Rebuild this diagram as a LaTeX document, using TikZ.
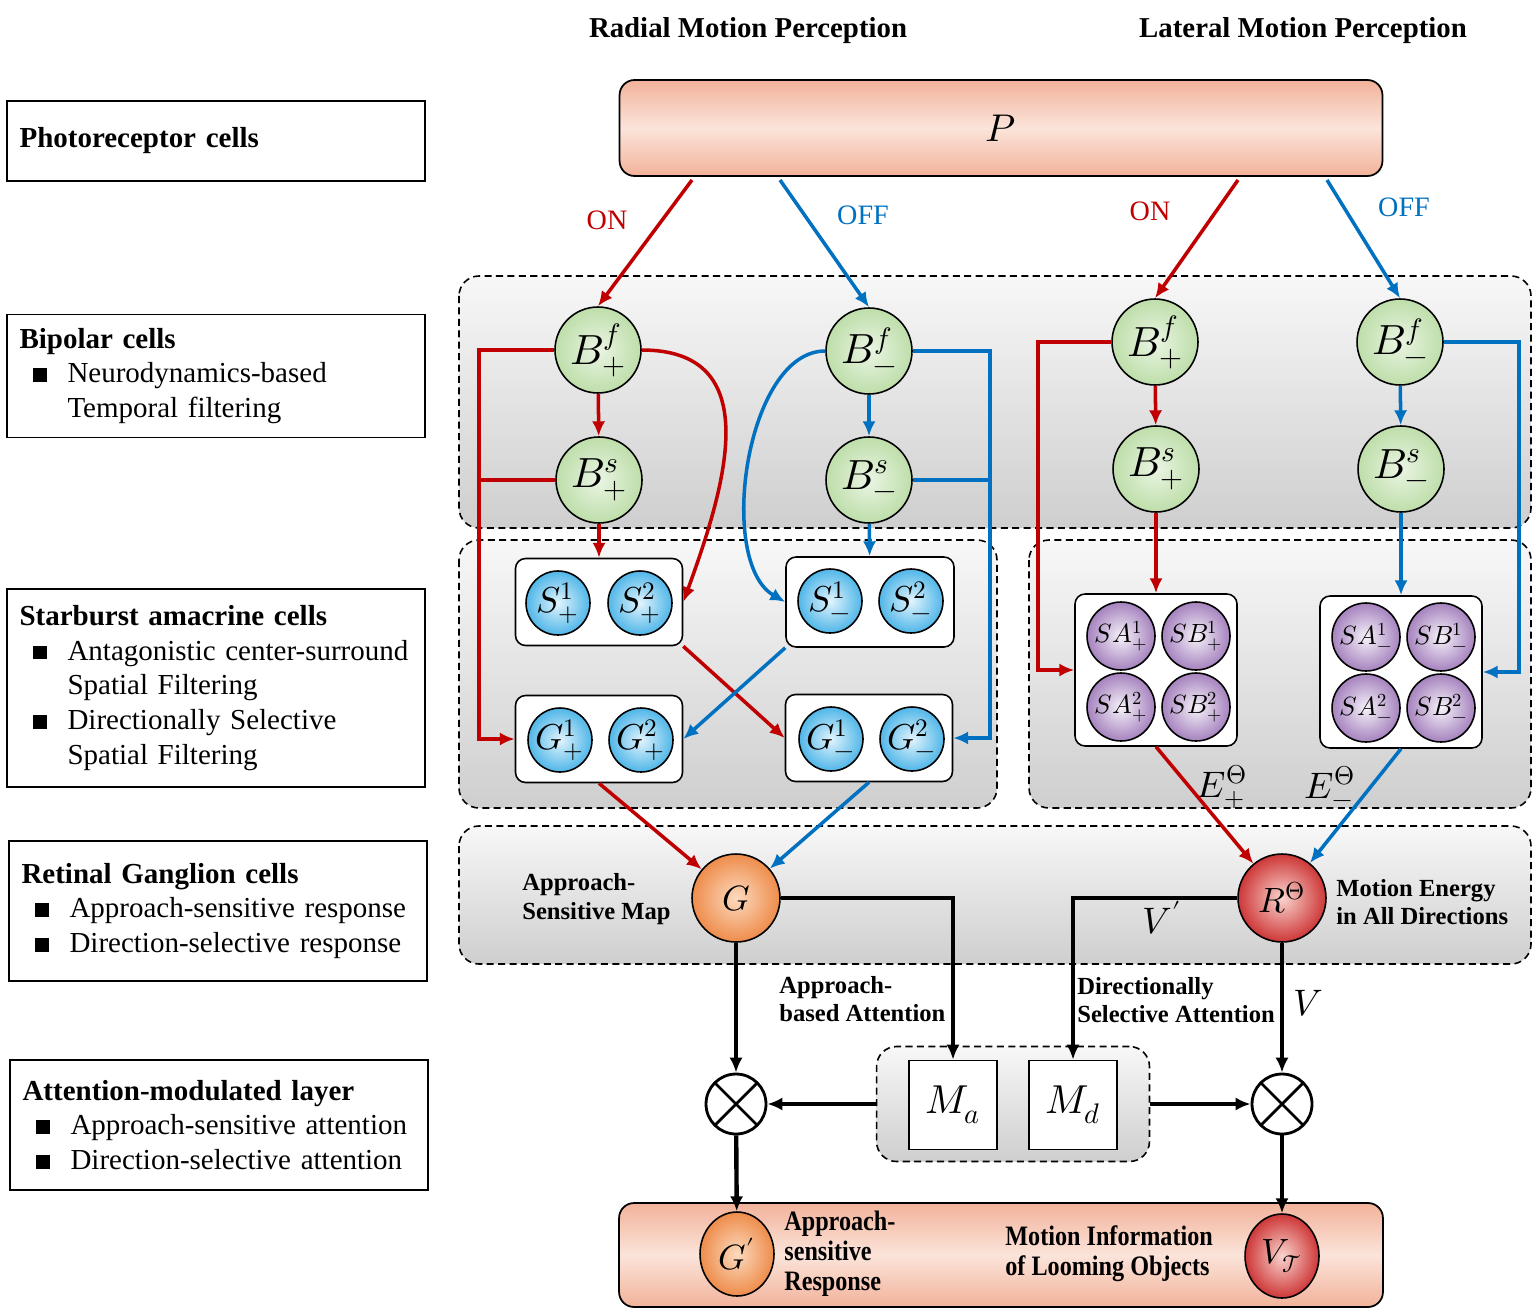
\documentclass[tikz,border=0pt]{standalone}
\usepackage{fontspec}
\usepackage{unicode-math}
\setmainfont{Liberation Serif}
\newfontfamily\narrowfont[FakeStretch=0.86]{Liberation Serif}
\usetikzlibrary{arrows.meta,shapes.geometric}

\definecolor{onred}{RGB}{192,0,0}
\definecolor{offblue}{RGB}{0,112,192}
\definecolor{bipout}{RGB}{190,222,170}
\definecolor{bipin}{RGB}{234,245,227}
\definecolor{sacout}{RGB}{80,182,232}
\definecolor{sacin}{RGB}{225,244,253}
\definecolor{dsout}{RGB}{165,130,190}
\definecolor{dsin}{RGB}{246,242,249}
\definecolor{apout}{RGB}{238,140,75}
\definecolor{apin}{RGB}{252,218,190}
\definecolor{meout}{RGB}{205,55,55}
\definecolor{mein}{RGB}{250,212,206}
\definecolor{salmon}{RGB}{242,178,154}
\definecolor{salmonlt}{RGB}{251,228,218}

\newcommand{\panelbullet}{\makebox[0.96cm][l]{\hspace{0.26cm}\rule[0.02cm]{0.29cm}{0.27cm}}}
\newcommand{\panelindent}{\hspace*{0.96cm}}

\tikzset{
  panel/.style={draw, line width=1pt, align=left, inner xsep=0.25cm, text width=7.86cm,
    font=\fontsize{16.5}{19.8}\selectfont},
  title/.style={font=\bfseries\fontsize{16.4}{19}\selectfont},
  layer/.style={draw, line width=0.9pt, dash pattern=on 4pt off 2.5pt, rounded corners=0.4cm,
    top color=black!3, bottom color=black!19},
  pbox/.style={draw, line width=1pt, rounded corners=0.3cm, top color=salmon, bottom color=salmon,
    middle color=salmonlt, font=\fontsize{22}{26}\selectfont},
  bip/.style={circle, draw, line width=0.9pt, minimum size=1.72cm, inner sep=0pt,
    inner color=bipin, outer color=bipout, font=\fontsize{24}{28}\selectfont},
  sac/.style={circle, draw, line width=0.9pt, minimum size=1.28cm, inner sep=0pt,
    inner color=sacin, outer color=sacout, font=\fontsize{20.5}{24}\selectfont},
  dsc/.style={circle, draw, line width=0.9pt, minimum size=1.36cm, inner sep=0pt,
    inner color=dsin, outer color=dsout, font=\fontsize{15}{17}\selectfont},
  cellbox/.style={draw, fill=white, line width=0.9pt, rounded corners=0.2cm, inner sep=0pt},
  apc/.style={circle, draw, line width=0.9pt, minimum size=1.76cm, inner sep=0pt,
    inner color=apin, outer color=apout, font=\fontsize{20}{24}\selectfont},
  mec/.style={apc, inner color=mein, outer color=meout},
  ape/.style={ellipse, draw, line width=0.9pt, minimum width=1.48cm, minimum height=1.68cm,
    inner sep=0pt, inner color=apin, outer color=apout, font=\fontsize{20}{24}\selectfont},
  mee/.style={ape, inner color=mein, outer color=meout},
  mult/.style={circle, draw, fill=white, line width=1.6pt, minimum size=1.2cm,
    path picture={\draw[line width=1.6pt] (path picture bounding box.north west) -- (path picture bounding box.south east)
      (path picture bounding box.north east) -- (path picture bounding box.south west);}},
  mbox/.style={draw, fill=white, line width=1pt, minimum width=1.76cm, minimum height=1.78cm,
    font=\fontsize{23}{27}\selectfont},
  onarrow/.style={draw=onred, line width=2pt, -{Latex[length=8.5pt,width=7.5pt]}},
  online/.style={draw=onred, line width=2pt},
  offarrow/.style={draw=offblue, line width=2pt, -{Latex[length=8.5pt,width=7.5pt]}},
  offline/.style={draw=offblue, line width=2pt},
  blackarrow/.style={draw, line width=2.5pt, -{Latex[length=8.5pt,width=7.5pt]}},
  onlab/.style={text=onred, font=\fontsize{16}{19}\selectfont},
  offlab/.style={text=offblue, font=\fontsize{16}{19}\selectfont},
  note/.style={align=left, inner sep=0pt, font=\bfseries\fontsize{14}{16.2}\selectfont},
  narrow/.style={align=left, inner sep=0pt, font=\narrowfont\bfseries\fontsize{16}{17}\selectfont},
  mathlab/.style={inner sep=0pt, font=\fontsize{21}{25}\selectfont}
}

\begin{document}
\begin{tikzpicture}[x=0.02cm, y=-0.02cm]
  \useasboundingbox (0,0) rectangle (1533,1314);

  % titles
  \node[title] (radial) at (748,31) {Radial Motion Perception};
  \node[title] (lateral) at (1303,31) {Lateral Motion Perception};

  % left panels
  \node[panel, minimum height=1.6cm] (photo) at (216,141) {\textbf{Photoreceptor cells}};
  \node[panel, minimum height=2.46cm] (bipolar) at (216,376)
    {\textbf{Bipolar cells}\\\panelbullet Neurodynamics-based\\\panelindent Temporal filtering};
  \node[panel, minimum height=3.96cm] (starburst) at (216,688)
    {\textbf{Starburst amacrine cells}\\\panelbullet Antagonistic center-surround\\\panelindent Spatial Filtering\\
     \panelbullet Directionally Selective\\\panelindent Spatial Filtering};
  \node[panel, minimum height=2.8cm] (ganglion) at (218,911)
    {\textbf{Retinal Ganglion cells}\\\panelbullet Approach-sensitive response\\\panelbullet Direction-selective response};
  \node[panel, minimum height=2.6cm] (attention) at (219,1125)
    {\textbf{Attention-modulated layer}\\\panelbullet Approach-sensitive attention\\\panelbullet Direction-selective attention};

  % gray layers
  \draw[layer] (459,276) rectangle (1531,528);
  \draw[layer] (459,540) rectangle (997,808);
  \draw[layer] (1029,540) rectangle (1531,808);
  \draw[layer] (459,826) rectangle (1531,964);
  \node[layer, minimum width=5.46cm, minimum height=2.3cm] (att) at (1013,1104) {};

  % photoreceptors
  \node[pbox, minimum width=15.26cm, minimum height=1.92cm] (P) at (1001,128) {$P$};

  % bipolar cells
  \node[bip] (bpf) at (598,350) {$B_{+}^{f}$};
  \node[bip] (bps) at (599,480) {$B_{+}^{s}$};
  \node[bip] (bmf) at (869,351) {$B_{-}^{f}$};
  \node[bip] (bms) at (869,480) {$B_{-}^{s}$};
  \node[bip] (bpf2) at (1155,342) {$B_{+}^{f}$};
  \node[bip] (bps2) at (1156,469) {$B_{+}^{s}$};
  \node[bip] (bmf2) at (1400,342) {$B_{-}^{f}$};
  \node[bip] (bms2) at (1401,469) {$B_{-}^{s}$};

  % starburst amacrine cells, radial part
  \node[cellbox, minimum width=3.34cm, minimum height=1.74cm] (sp) at (599,602) {};
  \node[cellbox, minimum width=3.36cm, minimum height=1.8cm] (sm) at (870,602) {};
  \node[cellbox, minimum width=3.34cm, minimum height=1.74cm] (gp) at (599,739) {};
  \node[cellbox, minimum width=3.34cm, minimum height=1.74cm] (gm) at (869,738) {};
  \node[sac] (sp1) at (558,603) {$S_{+}^{1}$};
  \node[sac] (sp2) at (640,603) {$S_{+}^{2}$};
  \node[sac] (sm1) at (830,601) {$S_{-}^{1}$};
  \node[sac] (sm2) at (911,601) {$S_{-}^{2}$};
  \node[sac] (gp1) at (560,740) {$G_{+}^{1}$};
  \node[sac] (gp2) at (641,740) {$G_{+}^{2}$};
  \node[sac] (gm1) at (831,739) {$G_{-}^{1}$};
  \node[sac] (gm2) at (912,739) {$G_{-}^{2}$};

  % starburst amacrine cells, lateral part
  \node[cellbox, minimum width=3.24cm, minimum height=3.04cm] (bxp) at (1156,670) {};
  \node[cellbox, minimum width=3.24cm, minimum height=3.04cm] (bxm) at (1401,672) {};
  \node[dsc] (sap1) at (1121,636) {$SA_{+}^{1}$};
  \node[dsc] (sbp1) at (1196,636) {$SB_{+}^{1}$};
  \node[dsc] (sap2) at (1121,707) {$SA_{+}^{2}$};
  \node[dsc] (sbp2) at (1196,707) {$SB_{+}^{2}$};
  \node[dsc] (sam1) at (1366,637) {$SA_{-}^{1}$};
  \node[dsc] (sbm1) at (1441,637) {$SB_{-}^{1}$};
  \node[dsc] (sam2) at (1366,708) {$SA_{-}^{2}$};
  \node[dsc] (sbm2) at (1441,708) {$SB_{-}^{2}$};

  % ganglion cells and attention
  \node[apc] (G) at (736,898) {$G$};
  \node[mec] (R) at (1282,898) {$R^{\Theta}$};
  \node[mult] (ox1) at (736,1104) {};
  \node[mult] (ox2) at (1282,1104) {};
  \node[mbox] (Ma) at (953,1105) {$M_a$};
  \node[mbox] (Md) at (1073,1105) {$M_d$};

  % output
  \node[pbox, minimum width=15.28cm, minimum height=2.08cm] (resp) at (1001,1255) {};
  \node[ape] (Gp) at (737,1254) {$G'$};
  \node[mee] (VT) at (1282,1256) {$V_{\mathcal{T}}$};

  % labels
  \node[onlab] (onl1) at (607,220) {ON};
  \node[offlab] (offl1) at (863,215) {OFF};
  \node[onlab] (onl2) at (1150,211) {ON};
  \node[offlab] (offl2) at (1404,207) {OFF};
  \node[note, anchor=west] (asmap) at (522,899) {Approach-\\Sensitive Map};
  \node[note, anchor=west] (menergy) at (1336,902) {Motion Energy\\in All Directions};
  \node[note, anchor=west] (abatt) at (779,999) {Approach-\\based Attention};
  \node[note, anchor=west] (dsatt) at (1077,1000) {Directionally\\Selective Attention};
  \node[narrow, anchor=west] (asresp) at (784,1254) {Approach-\\sensitive\\Response};
  \node[narrow, anchor=west] (motinfo) at (1005,1254) {Motion Information\\of Looming Objects};
  \node[mathlab] (Ep) at (1222,787) {$E_{+}^{\Theta}$};
  \node[mathlab] (Em) at (1330,787) {$E_{-}^{\Theta}$};
  \node[mathlab] (Vprime) at (1162,918) {$V'$};
  \node[mathlab] (Vlab) at (1308,1003) {$V$};

  % ON / OFF pathways
  \coordinate (on1) at (692,180);
  \coordinate (off1) at (780,180);
  \coordinate (on2) at (1238,180);
  \coordinate (off2) at (1327,180);
  \draw[onarrow] (on1) -- (bpf.north);
  \draw[offarrow] (off1) -- (bmf.north);
  \draw[onarrow] (on2) -- (bpf2.north);
  \draw[offarrow] (off2) -- (bmf2.north);

  % radial, ON
  \draw[onarrow] (bpf) -- (bps);
  \draw[onarrow] (bps) -- (sp);
  \draw[onarrow] (bpf.west) -- ++(-75,0) |- (gp.west);
  \draw[online] (bps.west) -- ++(-76,0);
  \draw[onarrow] (bpf.east) to[out=0, in=70, looseness=1.25] (sp.east);
  \draw[onarrow] (sp.south east) -- (gm.west);
  \draw[onarrow] (gp.south) -- (G);

  % radial, OFF
  \draw[offarrow] (bmf) -- (bms);
  \draw[offarrow] (bms) -- (sm);
  \draw[offarrow] (bmf.west) to[out=180, in=150, looseness=0.8] (sm.west);
  \draw[offarrow] (bmf.east) -- ++(77,0) |- (gm.east);
  \draw[offline] (bms.east) -- ++(77,0);
  \draw[offarrow] (sm.south west) -- (gp.east);
  \draw[offarrow] (gm.south) -- (G);

  % lateral
  \draw[onarrow] (bpf2) -- (bps2);
  \draw[onarrow] (bps2) -- (bxp);
  \draw[onarrow] (bpf2.west) -- ++(-73,0) |- (bxp.west);
  \draw[onarrow] (bxp.south) -- (R);
  \draw[offarrow] (bmf2) -- (bms2);
  \draw[offarrow] (bms2) -- (bxm);
  \draw[offarrow] (bmf2.east) -- ++(75,0) |- (bxm.east);
  \draw[offarrow] (bxm.south) -- (R);

  % attention
  \draw[blackarrow] (G) -- (ox1);
  \draw[blackarrow] (G.east) -| (Ma.north);
  \draw[blackarrow] (R.west) -| (Md.north);
  \draw[blackarrow] (R) -- (ox2);
  \draw[blackarrow] (att.west) -- (ox1.east);
  \draw[blackarrow] (att.east) -- (ox2.west);
  \draw[blackarrow] (ox1) -- (Gp);
  \draw[blackarrow] (ox2) -- (VT);
\end{tikzpicture}
\end{document}
